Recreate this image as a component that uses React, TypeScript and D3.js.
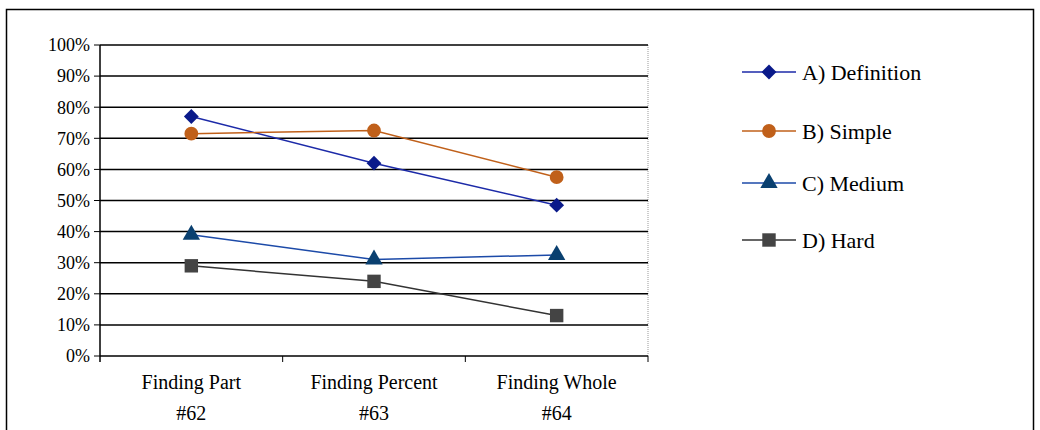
import React from "react";
import { scaleBand, scaleLinear, line, symbol, symbolTriangle, symbolSquare, symbolCircle } from "d3";

const categories = ["Finding Part|#62", "Finding Percent|#63", "Finding Whole|#64"];
const yTicks = [0, 10, 20, 30, 40, 50, 60, 70, 80, 90, 100];
const seriesNames = ["A) Definition", "B) Simple", "C) Medium", "D) Hard"];
const definition = [77, 62, 48.5];
const simple = [71.5, 72.5, 57.5];
const medium = [39, 31, 32.5];
const hard = [29, 24, 13];

const series = [
  { name: seriesNames[0], values: definition, line: "#1c2aa8", fill: "#0a1a8a", shape: symbolSquare, size: 110, rot: 45 },
  { name: seriesNames[1], values: simple, line: "#c0601a", fill: "#c0601a", shape: symbolCircle, size: 150, rot: 0 },
  { name: seriesNames[2], values: medium, line: "#1c4aa8", fill: "#0a4070", shape: symbolTriangle, size: 130, rot: 0 },
  { name: seriesNames[3], values: hard, line: "#333333", fill: "#444444", shape: symbolSquare, size: 180, rot: 0 },
];

const font = "Liberation Serif, Times New Roman, serif";

export default function App() {
  const left = 100, right = 648, top = 45, bottom = 356;
  const x = scaleBand().domain(categories).range([left, right]);
  const y = scaleLinear().domain([0, 100]).range([bottom, top]);
  const cx = (i: number) => x(categories[i])! + x.bandwidth() / 2;
  const legendY = [72, 131, 183, 240];

  return (
    <svg width={1040} height={430} style={{ position: "absolute", left: 0, top: 0 }}>
      <rect x={0} y={0} width={1040} height={430} fill="#fff" />
      <rect x={6.5} y={9.5} width={1027} height={430} fill="none" stroke="#000" strokeWidth={1.5} />
      <line x1={right} x2={right} y1={top} y2={bottom} stroke="#999" strokeDasharray="1,1" />
      {yTicks.map((t) => (
        <g key={t}>
          {t > 0 && <line x1={left} x2={right} y1={y(t)} y2={y(t)} stroke="#000" strokeWidth={1.5} />}
          <line x1={left - 6} x2={left} y1={y(t)} y2={y(t)} stroke="#000" />
          <text x={left - 10} y={y(t)} dy="0.35em" textAnchor="end" fontSize={18} style={{ fontFamily: font }}>{t}%</text>
        </g>
      ))}
      <line x1={left} x2={left} y1={top} y2={bottom + 6} stroke="#000" strokeWidth={1.5} />
      <line x1={left} x2={right} y1={bottom} y2={bottom} stroke="#000" strokeWidth={1.5} />
      {[0, 1, 2].map((i) => (
        <line key={i} x1={x(categories[i])! + x.bandwidth()} x2={x(categories[i])! + x.bandwidth()} y1={bottom} y2={bottom + 6} stroke="#000" />
      ))}
      {categories.map((c, i) => (
        <text key={c} x={cx(i)} y={389} textAnchor="middle" fontSize={20} style={{ fontFamily: font }}>
          <tspan x={cx(i)}>{c.split("|")[0]}</tspan>
          <tspan x={cx(i)} dy={31}>{c.split("|")[1]}</tspan>
        </text>
      ))}
      {series.map((s) => {
        const path = line<number>().x((_, i) => cx(i)).y((v) => y(v))(s.values)!;
        return (
          <g key={s.name}>
            <path d={path} fill="none" stroke={s.line} strokeWidth={1.5} />
            {s.values.map((v, i) => (
              <path key={i} d={symbol().type(s.shape).size(s.size)()!} transform={`translate(${cx(i)},${y(v)}) rotate(${s.rot})`} fill={s.fill} />
            ))}
          </g>
        );
      })}
      {series.map((s, i) => (
        <g key={s.name} transform={`translate(0,${legendY[i]})`}>
          <line x1={742} x2={796} y1={0} y2={0} stroke={s.line} strokeWidth={1.5} />
          <path d={symbol().type(s.shape).size(s.size)()!} transform={`translate(769,0) rotate(${s.rot})`} fill={s.fill} />
          <text x={802} y={0} dy="0.35em" fontSize={22} style={{ fontFamily: font }}>{s.name}</text>
        </g>
      ))}
    </svg>
  );
}
